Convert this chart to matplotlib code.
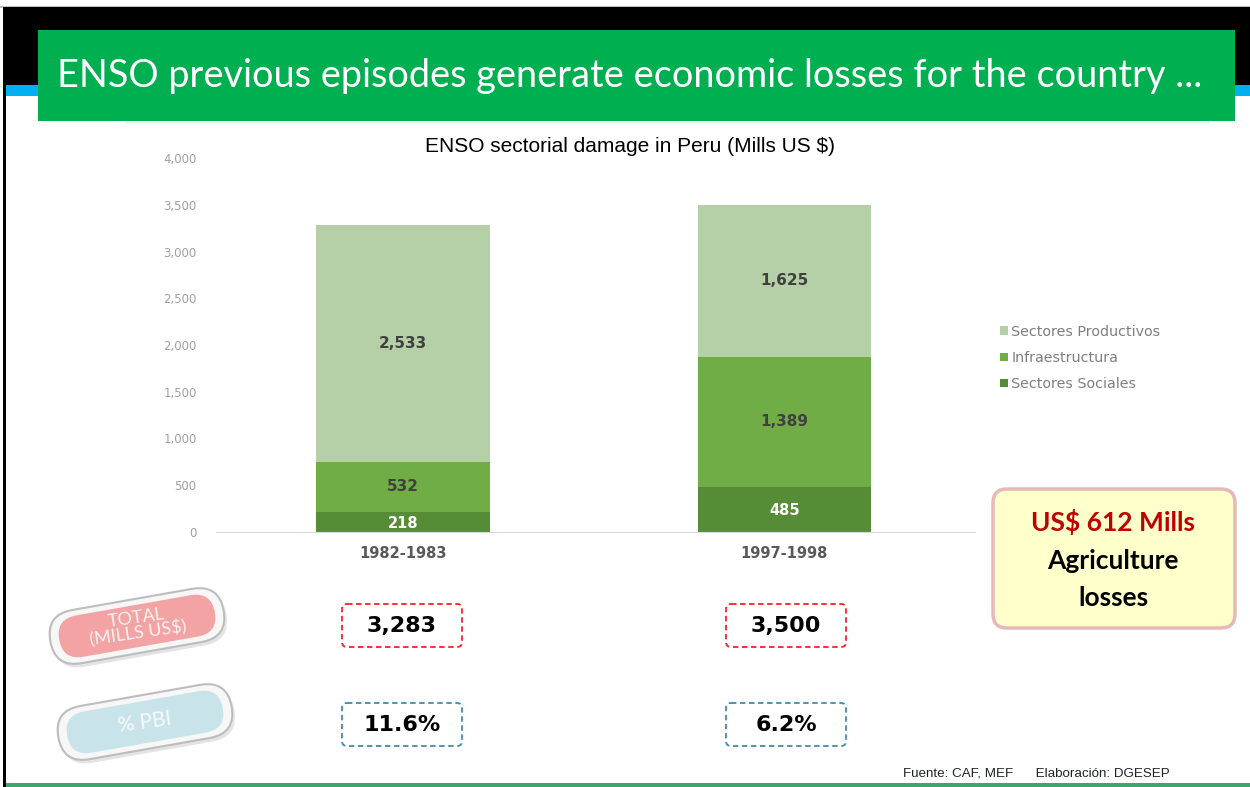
import numpy as np
import matplotlib.pyplot as plt
from matplotlib.patches import FancyBboxPatch, Rectangle
from matplotlib.transforms import Affine2D

# ------------- DATA -------------
periods = ["1982-1983", "1997-1998"]
sociales = [218, 485]
infraestructura = [532, 1389]
productivos = [2533, 1625]
totals = ["3,283", "3,500"]
pbi = ["11.6%", "6.2%"]
y_ticks = [0, 500, 1000, 1500, 2000, 2500, 3000, 3500, 4000]

c_prod = "#B5CFA6"
c_infra = "#70AD47"
c_soc = "#578C36"

W, H = 1250, 787
fig = plt.figure(figsize=(W / 100, H / 100), dpi=100)

# ------------- BACKGROUND / SLIDE DECOR (pixel coords) -------------
bg = fig.add_axes([0, 0, 1, 1], zorder=0)
bg.set_xlim(0, W)
bg.set_ylim(H, 0)
bg.axis("off")

bg.add_patch(Rectangle((0, 6), W, 1.5, color="#BFBFBF", lw=0))
bg.add_patch(Rectangle((3, 7), W - 3, 78, color="black", lw=0))
bg.add_patch(Rectangle((3, 85), W - 3, 11, color="#00B0F0", lw=0))
bg.add_patch(Rectangle((3, 85), 3, H - 85, color="black", lw=0))
bg.add_patch(Rectangle((6, 783), W - 6, 4, color="#3DA66E", lw=0))
bg.add_patch(Rectangle((125, 121), 1085, 3, color="#EEF3EE", lw=0))
bg.add_patch(Rectangle((38, 30), 1197, 91, color="#00AF50", lw=0))
bg.text(57, 87, "ENSO previous episodes generate economic losses for the country ...",
        fontsize=27.3, family="Lato", color="white", va="baseline", ha="left")

# pills
def pill(cx, cy, fill, label, fs):
    tr = Affine2D().rotate_deg_around(cx, cy, -10) + bg.transData
    L, T = 176, 54
    shadow = FancyBboxPatch((cx - L / 2 + 2, cy - T / 2 + 4), L, T,
                            boxstyle="round,pad=0,rounding_size=27",
                            fc="#E4E4E4", ec="none", transform=tr)
    outer = FancyBboxPatch((cx - L / 2, cy - T / 2), L, T,
                           boxstyle="round,pad=0,rounding_size=27",
                           fc="#F7F7F7", ec="#BDBDBD", lw=1.5, transform=tr)
    inner = FancyBboxPatch((cx - L / 2 + 9, cy - T / 2 + 6), L - 18, T - 12,
                           boxstyle="round,pad=0,rounding_size=21",
                           fc=fill, ec="none", transform=tr)
    for p in (shadow, outer, inner):
        bg.add_patch(p)
    bg.text(cx, cy, label, rotation=8, rotation_mode="anchor", ha="center",
            va="center", color="white", fontsize=fs, family="Lato",
            linespacing=0.9, alpha=0.85)

pill(137, 626, "#F3A3A3", "TOTAL\n(MILLS US$)", 13)
pill(145, 722, "#C9E3EA", "% PBI", 15)

# dashed boxes
for i, cx in enumerate([402, 786]):
    bg.add_patch(FancyBboxPatch((cx - 60, 604), 120, 43,
                                boxstyle="round,pad=0,rounding_size=5",
                                fc="none", ec="#FF2020", lw=1.3, ls=(0, (3, 2))))
    bg.text(cx, 626, totals[i], ha="center", va="center", fontsize=16,
            fontweight="bold", family="DejaVu Sans", color="black")
    bg.add_patch(FancyBboxPatch((cx - 60, 703), 120, 43,
                                boxstyle="round,pad=0,rounding_size=5",
                                fc="none", ec="#3B8FA8", lw=1.3, ls=(0, (3, 2))))
    bg.text(cx, 725, pbi[i], ha="center", va="center", fontsize=16,
            fontweight="bold", family="DejaVu Sans", color="black")

# agriculture box
bg.add_patch(FancyBboxPatch((993, 489), 242, 139,
                            boxstyle="round,pad=0,rounding_size=14",
                            fc="#FFFFCC", ec="#E6B9B8", lw=2.5))
bg.text(1113, 522, "US$ 612 Mills", ha="center", va="center", fontsize=19,
        fontweight="bold", family="Lato", color="#C00000")
bg.text(1113, 561, "Agriculture", ha="center", va="center", fontsize=19,
        fontweight="bold", family="Lato", color="black")
bg.text(1113, 598, "losses", ha="center", va="center", fontsize=19,
        fontweight="bold", family="Lato", color="black")

bg.text(1170, 773, "Fuente: CAF, MEF      Elaboración: DGESEP", ha="right",
        va="center", fontsize=9.6, family="Liberation Sans", color="#222222")

bg.text(630, 147, "ENSO sectorial damage in Peru (Mills US $)", ha="center",
        va="center", fontsize=15, family="Liberation Sans", color="black")

# ------------- CHART -------------
ax = fig.add_axes([216 / W, (H - 532) / H, 759 / W, 374 / H], zorder=1)
ax.patch.set_alpha(0)
x = np.arange(len(periods))
w = 0.455
ax.bar(x, sociales, w, color=c_soc, label="Sectores Sociales")
ax.bar(x, infraestructura, w, bottom=sociales, color=c_infra, label="Infraestructura")
bottom2 = np.array(sociales) + np.array(infraestructura)
ax.bar(x, productivos, w, bottom=bottom2, color=c_prod, label="Sectores Productivos")

for i in range(len(periods)):
    ax.text(x[i], sociales[i] / 2 - 15, f"{sociales[i]:,}", ha="center", va="center",
            color="white", fontsize=10.5, fontweight="bold")
    ax.text(x[i], sociales[i] + infraestructura[i] / 2, f"{infraestructura[i]:,}",
            ha="center", va="center", color="#404040", fontsize=11, fontweight="bold")
    ax.text(x[i], bottom2[i] + productivos[i] / 2, f"{productivos[i]:,}",
            ha="center", va="center", color="#404040", fontsize=11, fontweight="bold")

ax.set_xlim(-0.49, 1.5)
ax.set_ylim(0, 4000)
ax.set_yticks(y_ticks)
ax.set_yticklabels([f"{v:,}" for v in y_ticks])
ax.set_xticks(x)
ax.set_xticklabels(periods, fontweight="bold")
ax.tick_params(axis="y", length=0, pad=14, labelsize=8.5, labelcolor="#A0A0A0")
ax.tick_params(axis="x", length=0, pad=10, labelsize=10.5, labelcolor="#595959")
for s in ["top", "right", "left"]:
    ax.spines[s].set_visible(False)
ax.spines["bottom"].set_color("#D9D9D9")

# legend (reversed order, like the original)
h, l = ax.get_legend_handles_labels()
leg = fig.legend(h[::-1], l[::-1], loc="center left", bbox_to_anchor=(987 / W, 1 - 358 / H),
                 frameon=False, fontsize=10.3, handlelength=0.55, handleheight=0.55,
                 handletextpad=0.25, labelspacing=0.85, labelcolor="#7F7F7F")

plt.savefig("out.png", dpi=100)
